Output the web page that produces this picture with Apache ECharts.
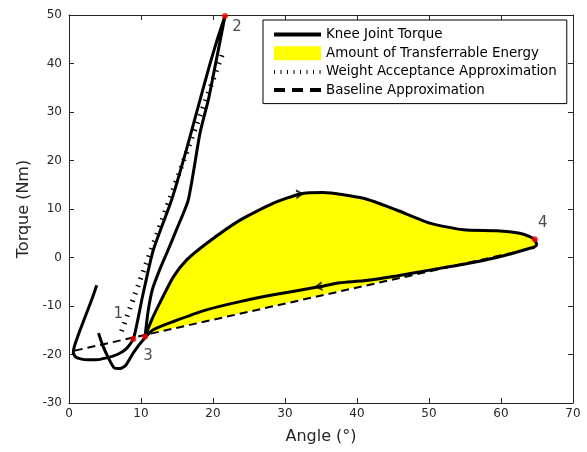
<!DOCTYPE html>
<html>
<head>
<meta charset="utf-8">
<script src="https://cdn.jsdelivr.net/npm/echarts@6/dist/echarts.min.js"></script>
<style>
  html, body { margin: 0; padding: 0; background: #fff; }
  #chart { width: 587px; height: 452px; }
</style>
</head>
<body>
<div id="chart"></div>
<script>
// knee joint torque loop (angle in deg, torque in Nm), in gait order
const kneeAngle = [3.85, 3.2, 2.3, 1.4, 0.75, 0.6, 0.9, 1.6, 2.6, 3.8, 5.2, 6.7, 7.9, 8.93,
  9.6, 10.2, 11.7, 14.26, 16.3, 18.2, 19.5, 20.6, 21.67,
  20.9, 20.1, 19.35, 18.2, 16.57, 15.0, 13.75, 12.6, 11.6, 11.0, 10.56,
  11.5, 12.6, 14.5, 16.35, 19.1, 23.75, 28.4, 32.1, 35.3, 40.9, 45.5, 50.1, 54.8, 59.4, 62.6, 64.0, 64.7, 64.95, 64.0,
  59.4, 54.8, 50.1, 45.5, 40.9, 37.6, 34.9, 28.4, 23.75, 19.1, 14.5, 11.7, 10.4,
  9.0, 7.9, 7.1, 6.3, 5.4, 4.6, 4.1];
const kneeTorque = [-5.7, -8.5, -12, -15.5, -18.3, -19.6, -20.5, -20.9, -21.1, -21.1, -20.7, -20.0, -18.9, -16.8,
  -12.5, -8.1, 1.5, 11.9, 22.2, 32.5, 39.5, 45, 49.8,
  44, 38, 32.5, 25.7, 11.9, 6.0, 1.5, -2.5, -6.5, -11, -16.3,
  -12.8, -9.4, -4.0, -0.5, 2.9, 7.7, 11.2, 13.1, 13.4, 12.2, 9.8, 7.1, 5.7, 5.5, 5.0, 4.3, 3.6, 2.6, 1.9,
  0.0, -1.4, -2.6, -3.8, -4.8, -5.2, -6.0, -7.7, -9.1, -10.8, -13.2, -14.9, -16.8,
  -19.5, -22.2, -22.9, -22.8, -20.5, -17.8, -15.6];

// yellow region: upper curve 3 -> 4, back along the baseline
const energyAngle = [10.56, 11.5, 12.6, 14.5, 16.35, 19.1, 23.75, 28.4, 32.1, 35.3, 40.9, 45.5, 50.1,
  54.8, 59.4, 62.6, 64.0, 64.7, 64.95, 64.0, 10.56];
const energyTorque = [-16.3, -12.8, -9.4, -4.0, -0.5, 2.9, 7.7, 11.2, 13.1, 13.4, 12.2, 9.8, 7.1,
  5.7, 5.5, 5.0, 4.3, 3.6, 2.6, 1.9, -15.9];

const weightAngle = [7.3, 21.45];
const weightTorque = [-15.2, 42.5];

const baseAngle = [0.8, 64.7];
const baseTorque = [-19.2, 2.0];

const keyAngle = [8.93, 21.67, 10.56, 64.7];
const keyTorque = [-16.8, 49.8, -16.3, 3.75];
const keyNames = ['1', '2', '3', '4'];

const arrowAngle = [32.1, 34.6];
const arrowTorque = [13.1, -6.0];

const xTicks = [0, 70, 10];
const yTicks = [-30, 50, 10];

const zip = (a, b) => a.map((v, i) => [v, b[i]]);

const keyOffsets = [[-15, -25], [12, 11], [3, 20], [8, -16]];
const arrowRot = [3, 187];
const axisColor = '#262626';
const fontFam = 'DejaVu Sans';
const hidden = { opacity: 0 };

const chart = echarts.init(document.getElementById('chart'));

const axisCommon = {
  type: 'value',
  splitLine: { show: false },
  axisLine: { onZero: false, lineStyle: { color: axisColor, width: 1 } },
  axisTick: { inside: true, length: 5, lineStyle: { color: axisColor } },
  axisLabel: { color: axisColor, fontSize: 12, fontFamily: fontFam },
  nameTextStyle: { color: axisColor, fontSize: 16, fontFamily: fontFam }
};

const option = {
  animation: false,
  backgroundColor: '#fff',
  grid: { left: 69, top: 15, right: 14, bottom: 49 },
  xAxis: [
    Object.assign({}, axisCommon, {
      min: xTicks[0], max: xTicks[1], interval: xTicks[2],
      position: 'bottom', name: 'Angle (°)', nameLocation: 'middle', nameGap: 26,
      axisLabel: Object.assign({}, axisCommon.axisLabel, { margin: 5 })
    }),
    Object.assign({}, axisCommon, {
      min: xTicks[0], max: xTicks[1], interval: xTicks[2],
      position: 'top', axisLabel: { show: false }
    })
  ],
  yAxis: [
    Object.assign({}, axisCommon, {
      min: yTicks[0], max: yTicks[1], interval: yTicks[2],
      position: 'left', name: 'Torque (Nm)', nameLocation: 'middle', nameGap: 34,
      axisLabel: Object.assign({}, axisCommon.axisLabel, { margin: 7 })
    }),
    Object.assign({}, axisCommon, {
      min: yTicks[0], max: yTicks[1], interval: yTicks[2],
      position: 'right', axisLabel: { show: false }
    })
  ],
  legend: {
    left: 263, top: 20,
    orient: 'vertical',
    itemWidth: 47, itemHeight: 14, itemGap: 5.2,
    padding: [8, 10, 7, 9],
    borderColor: '#000', borderWidth: 1,
    backgroundColor: '#fff',
    textStyle: { color: '#000', fontSize: 13.4, fontFamily: fontFam },
    data: [
      { name: 'Knee Joint Torque', itemStyle: hidden, lineStyle: { width: 4, color: '#000' } },
      { name: 'Amount of Transferrable Energy', icon: 'rect', itemStyle: { color: '#ffff00' } },
      { name: 'Weight Acceptance Approximation', itemStyle: hidden,
        lineStyle: { width: 4, color: '#000', type: [1, 5.5] } },
      { name: 'Baseline Approximation', itemStyle: hidden,
        lineStyle: { width: 4, color: '#000', type: [11, 7] } }
    ]
  },
  series: [
    {
      name: 'Amount of Transferrable Energy',
      type: 'custom',
      z: 1,
      itemStyle: { color: '#ffff00' },
      data: zip(energyAngle, energyTorque),
      renderItem: (params, api) => {
        if (params.dataIndex !== 0) return null;
        const pts = energyAngle.map((a, i) => api.coord([a, energyTorque[i]]));
        return { type: 'polygon', shape: { points: pts }, style: { fill: '#ffff00' } };
      }
    },
    {
      name: 'Baseline Approximation',
      type: 'line',
      z: 2,
      symbol: 'none',
      data: zip(baseAngle, baseTorque),
      itemStyle: { color: '#000' },
      lineStyle: { color: '#000', width: 2, type: [8, 5] }
    },
    {
      name: 'Weight Acceptance Approximation',
      type: 'line',
      z: 3,
      symbol: 'none',
      data: zip(weightAngle, weightTorque),
      itemStyle: { color: '#000' },
      lineStyle: { color: '#000', width: 5, type: [1.4, 6.5] }
    },
    {
      name: 'Knee Joint Torque',
      type: 'line',
      z: 4,
      symbol: 'none',
      smooth: 0.2,
      data: zip(kneeAngle, kneeTorque),
      itemStyle: { color: '#000' },
      lineStyle: { color: '#000', width: 3 }
    },
    {
      name: 'arrows',
      type: 'scatter',
      z: 5,
      symbol: 'path://M0,0L10,5L0,10L0,7.4L6.6,5L0,2.6Z',
      symbolSize: [8, 10],
      itemStyle: { color: '#000' },
      data: arrowAngle.map((a, i) => ({ value: [a, arrowTorque[i]], symbolRotate: arrowRot[i] }))
    },
    {
      name: 'points',
      type: 'scatter',
      z: 6,
      symbolSize: 6,
      itemStyle: { color: '#ff0000' },
      label: {
        show: true, position: 'inside', color: '#1a1a1a', fontSize: 15, fontFamily: fontFam,
        formatter: p => keyNames[p.dataIndex]
      },
      data: keyAngle.map((a, i) => ({ value: [a, keyTorque[i]], label: { offset: keyOffsets[i] } }))
    }
  ]
};

chart.setOption(option);
</script>
</body>
</html>
